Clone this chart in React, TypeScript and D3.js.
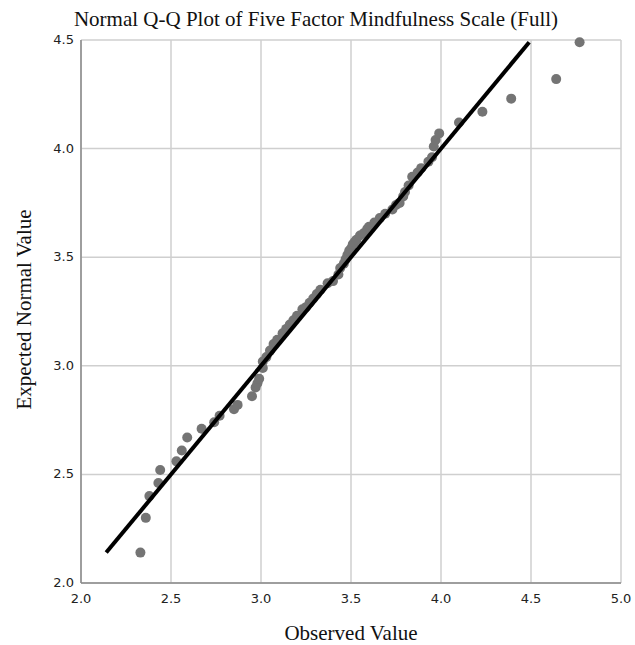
import React from "react";
import * as d3 from "d3";

const title = "Normal Q-Q Plot of Five Factor Mindfulness Scale (Full)";
const xLabel = "Observed Value";
const yLabel = "Expected Normal Value";
const xTicks = [2.0, 2.5, 3.0, 3.5, 4.0, 4.5, 5.0];
const yTicks = [2.0, 2.5, 3.0, 3.5, 4.0, 4.5];
const refLine = [2.14, 4.49];

const observed = [
  2.33, 2.36, 2.38, 2.43, 2.44, 2.53, 2.56, 2.59, 2.67, 2.74, 2.77, 2.85, 2.87,
  2.95, 2.97, 2.98, 2.99, 3.01, 3.01, 3.03, 3.05, 3.07, 3.09, 3.12, 3.14, 3.16,
  3.18, 3.2, 3.23, 3.25, 3.27, 3.29, 3.31, 3.33, 3.37, 3.4, 3.43, 3.44, 3.46,
  3.47, 3.48, 3.49, 3.5, 3.51, 3.52, 3.53, 3.55, 3.57, 3.59, 3.6, 3.63, 3.66,
  3.69, 3.73, 3.75, 3.77, 3.79, 3.8, 3.82, 3.84, 3.87, 3.89, 3.93, 3.95, 3.96,
  3.97, 3.99, 4.1, 4.23, 4.39, 4.64, 4.77,
];
const expected = [
  2.14, 2.3, 2.4, 2.46, 2.52, 2.56, 2.61, 2.67, 2.71, 2.74, 2.77, 2.8, 2.82,
  2.86, 2.9, 2.92, 2.94, 2.99, 3.02, 3.04, 3.07, 3.1, 3.12, 3.15, 3.17, 3.19,
  3.21, 3.23, 3.26, 3.27, 3.29, 3.31, 3.33, 3.35, 3.38, 3.39, 3.42, 3.45, 3.47,
  3.49, 3.51, 3.53, 3.54, 3.56, 3.57, 3.58, 3.6, 3.61, 3.63, 3.64, 3.66, 3.68,
  3.7, 3.72, 3.74, 3.75, 3.78, 3.8, 3.83, 3.87, 3.89, 3.91, 3.94, 3.96, 4.01,
  4.04, 4.07, 4.12, 4.17, 4.23, 4.32, 4.49,
];

const W = 635;
const H = 645;
const M = { left: 81, right: 621, top: 40, bottom: 583 };

export default function App() {
  const x = d3.scaleLinear().domain([2, 5]).range([M.left, M.right]);
  const y = d3.scaleLinear().domain([2, 4.5]).range([M.bottom, M.top]);
  const line = d3.line<number>().x((d) => x(d)).y((d) => y(d));
  const pts = observed.map((o, i) => [o, expected[i]] as [number, number]);
  const tickFont = "'DejaVu Sans', Verdana, sans-serif";
  const serif = "'Liberation Serif', 'Times New Roman', serif";
  return (
    <svg
      width={W}
      height={H}
      style={{ position: "absolute", left: 0, top: 0, background: "#fff" }}
    >
      <rect x={0} y={0} width={W} height={H} fill="#fff" />
      {xTicks.map((t) => (
        <line key={"gx" + t} x1={x(t)} x2={x(t)} y1={M.top} y2={M.bottom} stroke="#cfcfcf" strokeWidth={1.5} />
      ))}
      {yTicks.map((t) => (
        <line key={"gy" + t} x1={M.left} x2={M.right} y1={y(t)} y2={y(t)} stroke="#cfcfcf" strokeWidth={1.5} />
      ))}
      <line x1={M.left} x2={M.left} y1={M.top} y2={M.bottom} stroke="#8a8a8a" strokeWidth={1.5} />
      <line x1={M.left} x2={M.right} y1={M.bottom} y2={M.bottom} stroke="#8a8a8a" strokeWidth={1.5} />
      {pts.map((p, i) => (
        <circle key={i} cx={x(p[0])} cy={y(p[1])} r={5} fill="#747474" />
      ))}
      <path d={line(refLine) || ""} stroke="#000" strokeWidth={4} fill="none" />
      {xTicks.map((t) => (
        <text key={"tx" + t} x={x(t)} y={M.bottom + 20} textAnchor="middle" fontFamily={tickFont} fontSize={13} fill="#222">
          {t.toFixed(1)}
        </text>
      ))}
      {yTicks.map((t) => (
        <text key={"ty" + t} x={M.left - 7} y={y(t) + 4} textAnchor="end" fontFamily={tickFont} fontSize={13} fill="#222">
          {t.toFixed(1)}
        </text>
      ))}
      <text x={316} y={26} textAnchor="middle" fontFamily={serif} fontSize={21} fill="#111">
        {title}
      </text>
      <text x={351} y={640} textAnchor="middle" fontFamily={serif} fontSize={21} fill="#111">
        {xLabel}
      </text>
      <text
        transform={`translate(31, ${(M.top + M.bottom) / 2 - 2}) rotate(-90)`}
        textAnchor="middle"
        fontFamily={serif}
        fontSize={21}
        fill="#111"
      >
        {yLabel}
      </text>
    </svg>
  );
}
